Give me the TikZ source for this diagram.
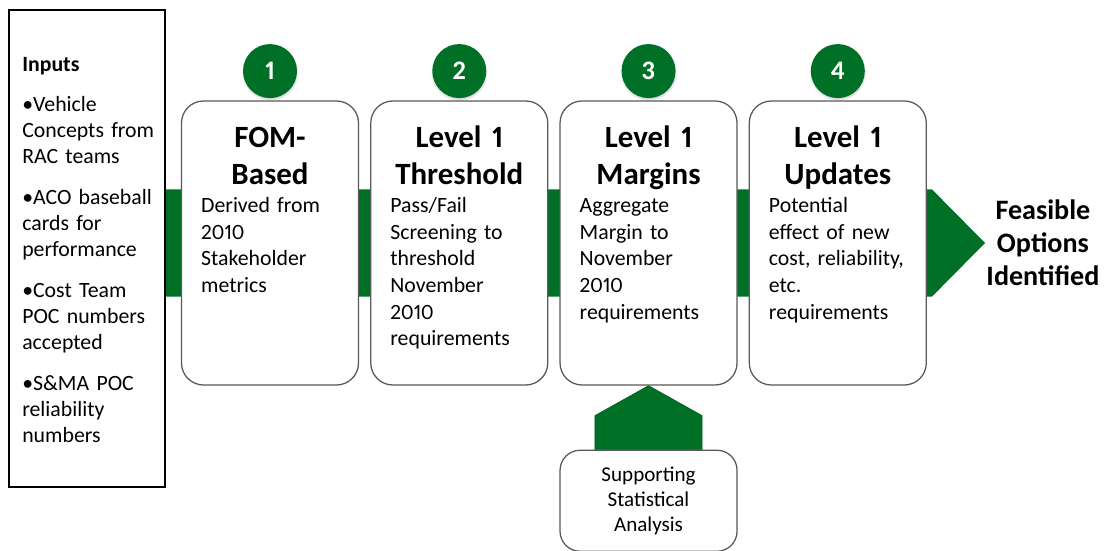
\documentclass[tikz,border=0pt]{standalone}
\usepackage{fontspec}
\setmainfont{Carlito}[Numbers=Proportional]
\usetikzlibrary{positioning,backgrounds,shadows}
\definecolor{flowgreen}{RGB}{0,112,38}
\tikzset{
  inputbox/.style={draw=black,line width=1.6pt,fill=white,minimum width=3.9cm,minimum height=11.925cm,inner sep=0pt},
  inputtext/.style={text width=3.5cm,align=left,inner sep=0pt,anchor=base west,font=\fontsize{15.5}{18.5}\selectfont},
  stepbox/.style={draw=black!65,line width=0.9pt,fill=white,rounded corners=0.55cm,minimum width=4.425cm,minimum height=7.1cm},
  stepnum/.style={circle,fill=flowgreen,text=white,minimum size=1.35cm,inner sep=0pt,font=\fontsize{19}{22}\selectfont\bfseries,
    circular drop shadow={shadow xshift=0pt,shadow yshift=-1pt,shadow scale=1.06,opacity=0.4}},
  steptitle/.style={text width=4.2cm,align=center,inner sep=0pt,anchor=base,font=\fontsize{22}{26.3}\selectfont\bfseries},
  stepbody/.style={text width=4cm,align=left,inner sep=0pt,anchor=base west,font=\fontsize{15.5}{19}\selectfont},
  supportbox/.style={stepbox,minimum height=2.525cm,rounded corners=0.5cm,align=center,font=\fontsize{15}{17.8}\selectfont},
  goal/.style={align=center,inner sep=0pt,font=\fontsize{20}{23.5}\selectfont\bfseries},
  flow/.style={fill=flowgreen,draw=flowgreen!80!black,line width=0.4pt}
}
\begin{document}
\begin{tikzpicture}[line cap=round]
\useasboundingbox (0,0) rectangle (27.6,13.775);
\node[inputbox] (inputs) at (2.175,7.5625) {};
\node[inputtext] (inputlist) at (0.55,11.975) {\textbf{Inputs}\\[0.33cm]
  •Vehicle\\Concepts from\\RAC teams\\[0.38cm]
  •ACO baseball\\cards for\\performance\\[0.38cm]
  •Cost Team\\POC numbers\\accepted\\[0.38cm]
  •S\&MA POC\\reliability\\numbers};

\node[stepbox] (fom) at (6.75,7.7) {};
\node[stepbox,right=0.275cm of fom] (threshold) {};
\node[stepbox,right=0.275cm of threshold] (margins) {};
\node[stepbox,right=0.275cm of margins] (updates) {};

\node[stepnum,above=0.05cm of fom] (num1) {1};
\node[stepnum,above=0.05cm of threshold] (num2) {2};
\node[stepnum,above=0.05cm of margins] (num3) {3};
\node[stepnum,above=0.05cm of updates] (num4) {4};

\node[steptitle,yshift=-1.175cm] (fomtitle) at (fom.north) {FOM-\\Based};
\node[steptitle,yshift=-1.175cm] (thresholdtitle) at (threshold.north) {Level 1\\Threshold};
\node[steptitle,yshift=-1.175cm] (marginstitle) at (margins.north) {Level 1\\Margins};
\node[steptitle,yshift=-1.175cm] (updatestitle) at (updates.north) {Level 1\\Updates};

\node[stepbody,xshift=0.5cm,yshift=-2.8cm] (fombody) at (fom.north west) {Derived from\\2010\\Stakeholder\\metrics};
\node[stepbody,xshift=0.5cm,yshift=-2.8cm] (thresholdbody) at (threshold.north west) {Pass/Fail\\Screening to\\threshold\\November\\2010\\requirements};
\node[stepbody,xshift=0.5cm,yshift=-2.8cm] (marginsbody) at (margins.north west) {Aggregate\\Margin to\\November\\2010\\requirements};
\node[stepbody,xshift=0.5cm,yshift=-2.8cm] (updatesbody) at (updates.north west) {Potential\\effect of new\\cost, reliability,\\etc.\\requirements};

\coordinate (tip) at (24.625,7.7);
\node[goal,right=0.03cm of tip] (feasible) {Feasible\\Options\\Identified};

\node[supportbox,below=1.6cm of margins] (stats) {Supporting\\Statistical\\Analysis};

\begin{scope}[on background layer]
\fill[flowgreen] (4.1,9.04) -- (23.3,9.04) -- (tip) -- (23.3,6.36) -- (4.1,6.36) -- cycle;
\filldraw[flow] ([xshift=-1.34cm]stats.north) -- ([xshift=-1.34cm,yshift=0.85cm]stats.north) -- (margins.south)
  -- ([xshift=1.34cm,yshift=0.85cm]stats.north) -- ([xshift=1.34cm]stats.north) -- cycle;
\end{scope}
\end{tikzpicture}
\end{document}
